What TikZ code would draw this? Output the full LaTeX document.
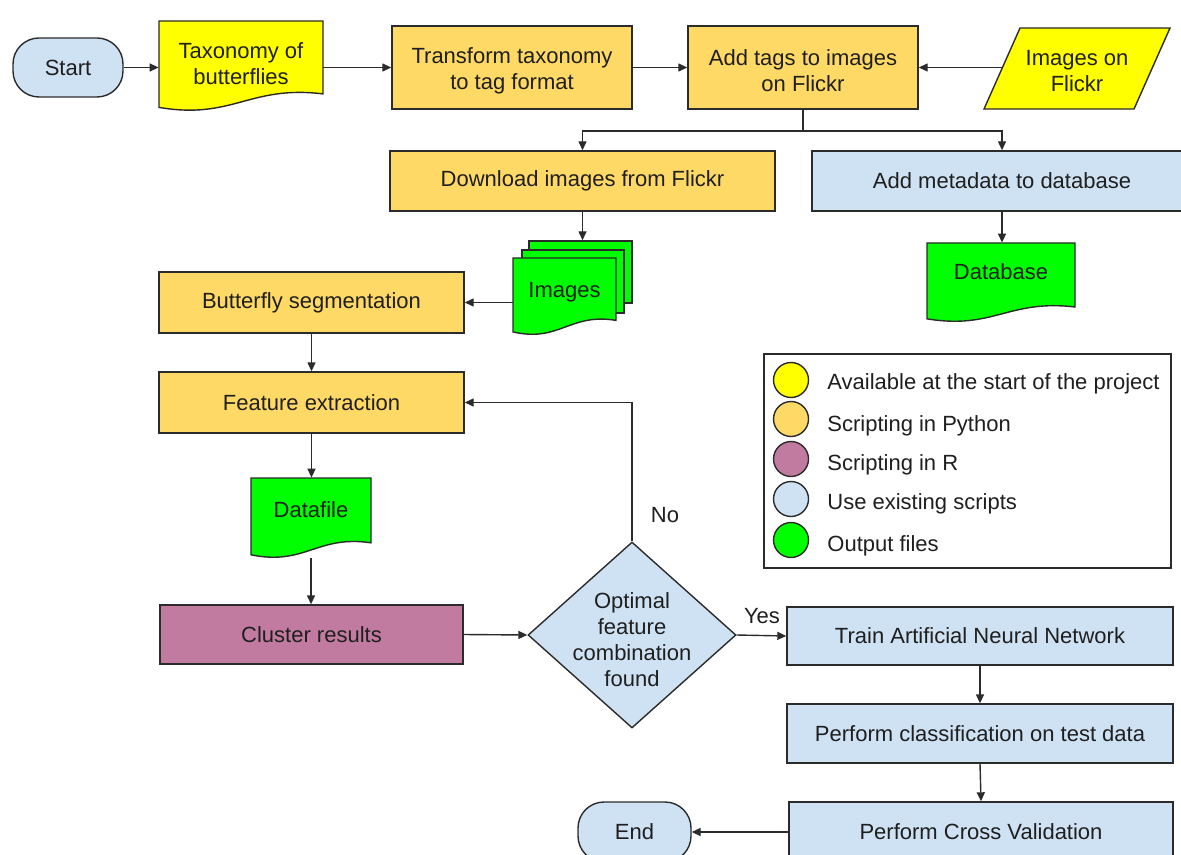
\documentclass[tikz,border=0pt]{standalone}
\usepackage{fontspec}
\setmainfont{Liberation Sans}
\usetikzlibrary{arrows.meta,calc,shapes.geometric}
\definecolor{yel}{HTML}{FFFF00}
\definecolor{org}{HTML}{FFD966}
\definecolor{blu}{HTML}{CFE2F3}
\definecolor{grn}{HTML}{00FF00}
\definecolor{mau}{HTML}{C27BA0}
\definecolor{edgec}{HTML}{2B2B2B}
\definecolor{ink}{HTML}{1F1F1F}
\tikzset{
  shapeline/.style={draw=edgec, line width=0.7pt},
  txt/.style={font=\fontsize{11}{13}\selectfont, text=ink, align=center, inner sep=0pt},
  sz/.style 2 args={minimum width=#1*0.5pt, minimum height=#2*0.5pt},
  box/.style={shapeline, rectangle, txt},
  term/.style={box, rounded corners=13pt},
  arr/.style={draw=edgec, line width=0.7pt, -{Triangle[length=4.5pt,width=4pt]}},
  conn/.style={draw=edgec, line width=0.7pt},
  legdot/.style={circle, shapeline, minimum size=17.5pt, inner sep=0pt},
  legtxt/.style={txt, anchor=west},
}
\newcommand{\tallstrut}{\rule{0pt}{11pt}}
\newcommand{\docshape}[8]{%
  \pgfmathsetmacro{\dcW}{#4-#2}%
  \pgfmathsetmacro{\dcH}{#5-#3}%
  \pgfmathsetmacro{\dcR}{#3+0.81*\dcH}%
  \pgfmathsetmacro{\dcL}{#3+0.96*\dcH}%
  \pgfmathsetmacro{\dcAx}{#4-0.45*\dcW}%
  \pgfmathsetmacro{\dcAy}{\dcR-0.10*\dcH}%
  \pgfmathsetmacro{\dcBx}{#2+0.45*\dcW}%
  \pgfmathsetmacro{\dcBy}{\dcL+0.14*\dcH}%
  \pgfmathsetmacro{\dcX}{(#2+#4)/2}%
  \pgfmathsetmacro{\dcY}{(#3+#5)/2}%
  \draw[shapeline, fill=#6] (#2,#3) -- (#4,#3) -- (#4,\dcR) .. controls (\dcAx,\dcAy) and (\dcBx,\dcBy) .. (#2,\dcL) -- cycle;
  \node[sz={\dcW}{\dcH}, inner sep=0pt] (#1) at (\dcX,\dcY) {};
  \node[txt] (#1-t) at (\dcX,#8) {#7};
}
\begin{document}
\begin{tikzpicture}[x=0.5pt,y=-0.5pt]
\useasboundingbox (0,0) rectangle (1181,855);
\clip (0,0) rectangle (1181,855);
\fill[white] (0,0) rectangle (1181,855);

% top row
\node[term, fill=blu, sz={110}{59}] (start) at (68,67.5) {Start};
\docshape{tax}{159}{21}{323}{111}{yel}{Taxonomy of\\butterflies}{64}
\node[box, fill=org, sz={240}{83}] (transform) at (512,67.5) {\tallstrut Transform taxonomy\\to tag format};
\node[box, fill=org, sz={230}{83}] (addtags) at (803,67.5) {\tallstrut Add tags to images\\on Flickr};
\draw[shapeline, fill=yel] (1020,28) -- (1170,28) -- (1134,109) -- (984,109) -- cycle;
\node[txt] (flickr) at (1077,71.5) {Images on\\Flickr};
\coordinate (flickrw) at (1002,67.5);

% second row
\node[box, fill=org, sz={385}{60}] (download) at (582.5,181) {Download images from Flickr};
\node[box, fill=blu, sz={380}{60}] (metadata) at (1002,181) {Add metadata to database};
\coordinate (split) at (803,131);

% images stack and database
\node[shapeline, fill=grn, sz={103}{62}, inner sep=0pt] (imgback) at (580.5,272) {};
\node[shapeline, fill=grn, sz={102}{63}, inner sep=0pt] (imgmid) at (573,281.5) {};
\docshape{imgs}{513}{258}{616}{335}{grn}{Images}{292}
\docshape{db}{927}{243}{1075}{322}{grn}{Database}{272}

% left column
\node[box, fill=org, sz={305}{61}] (seg) at (311.5,302.5) {Butterfly segmentation};
\node[box, fill=org, sz={305}{61}] (feat) at (311.5,402.5) {Feature extraction};
\docshape{dataf}{251}{478}{371}{558}{grn}{Datafile}{510}
\node[box, fill=mau, sz={303}{59}] (cluster) at (311.5,634.5) {Cluster results};

% decision
\node[shapeline, diamond, fill=blu, sz={208}{186}, inner sep=0pt] (dia) at (632,635) {};
\node[txt] (diat) at (632,640) {Optimal\\feature\\combination\\found};
\node[txt] (no) at (665,515) {No};
\node[txt] (yes) at (762,616) {Yes};

% right column
\node[box, fill=blu, sz={386}{58}] (train) at (980,636) {Train Artificial Neural Network};
\node[box, fill=blu, sz={386}{59}] (classify) at (980,733.5) {Perform classification on test data};
\node[box, fill=blu, sz={384}{60}] (crossval) at (981,832) {Perform Cross Validation};
\node[term, fill=blu, sz={113}{60}] (endn) at (634.5,832) {End};

% legend
\node[shapeline, sz={407}{214}, inner sep=0pt] (legend) at (967.5,461) {};
\node[legdot, fill=yel] (lg1) at (791,380) {};
\node[legdot, fill=org] (lg2) at (791,419) {};
\node[legdot, fill=mau] (lg3) at (791,459) {};
\node[legdot, fill=blu] (lg4) at (791,499) {};
\node[legdot, fill=grn] (lg5) at (791,540) {};
\node[legtxt] (lt1) at (827,384) {Available at the start of the project};
\node[legtxt] (lt2) at (827,426) {Scripting in Python};
\node[legtxt] (lt3) at (827,465) {Scripting in R};
\node[legtxt] (lt4) at (827,504) {Use existing scripts};
\node[legtxt] (lt5) at (827,546) {Output files};

% connectors
\draw[arr] (start.east) -- (start.east -| tax.west);
\draw[arr] (tax.east |- transform.west) -- (transform.west);
\draw[arr] (transform.east) -- (addtags.west);
\draw[arr] (flickrw) -- (addtags.east);
\draw[conn] (addtags.south) -- (split);
\draw[arr] (split) -| (download.north);
\draw[arr] (split) -| (metadata.north);
\draw[arr] (download.south) -- (download.south |- imgback.north);
\draw[arr] (metadata.south) -- (metadata.south |- db.north);
\draw[arr] (imgs.west |- seg.east) -- (seg.east);
\draw[arr] (seg.south) -- (feat.north);
\draw[arr] (feat.south) -- (feat.south |- dataf.north);
\draw[arr] (dataf.south) -- (dataf.south |- cluster.north);
\draw[arr] (cluster.east) -- (dia.west);
\draw[arr] (dia.north) |- (feat.east);
\draw[arr] (dia.east) -- (train.west);
\draw[arr] (train.south) -- (classify.north);
\draw[arr] (classify.south) -- (crossval.north);
\draw[arr] (crossval.west) -- (endn.east);
\end{tikzpicture}
\end{document}
